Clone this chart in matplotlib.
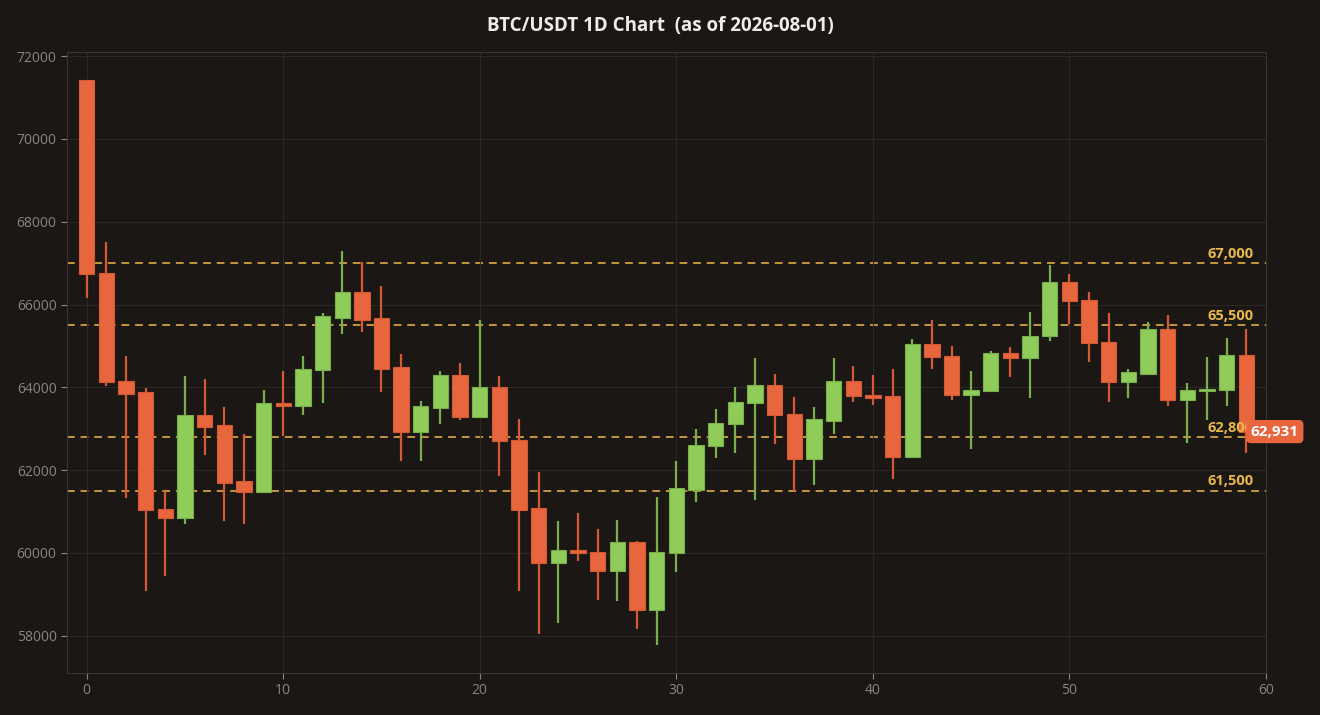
import matplotlib

matplotlib.use("Agg")
import matplotlib.pyplot as plt
from matplotlib.patches import Rectangle

plt.rcParams["font.family"] = ["Open Sans", "Noto Sans", "DejaVu Sans"]

# daily OHLC
opens = [71415, 66750, 64150, 63880, 61060, 60856, 63331, 63092, 61735, 61477,
         63618, 63541, 64411, 65682, 66303, 65672, 64487, 62911, 63512, 64287,
         63274, 64000, 62720, 61076, 59767, 60082, 60015, 59556, 60254, 58611,
         59996, 61525, 62576, 63111, 63618, 64057, 63360, 62261, 63197, 64153,
         63818, 63790, 62309, 65042, 64745, 63809, 63904, 64822, 64707, 65233,
         66542, 66102, 65089, 64124, 64334, 65405, 63704, 63904, 63943, 64774]
highs = [71415, 67517, 64755, 63980, 61506, 64277, 64200, 63522, 62872, 63933,
         64392, 64755, 65797, 67297, 67020, 66446, 64803, 63675, 64392, 64592,
         65625, 64277, 63235, 61955, 60770, 60961, 60579, 60799, 60283, 61353,
         62222, 62997, 63474, 64010, 64707, 64325, 63771, 63522, 64707, 64516,
         64296, 64440, 65156, 65625, 65003, 64392, 64870, 64975, 65825, 66943,
         66743, 66303, 65797, 64440, 65567, 65749, 64096, 64726, 65185, 65405]
lows = [66150, 64040, 61334, 59069, 59451, 60703, 62375, 60760, 60694, 61477,
        62815, 63340, 63627, 65300, 65328, 63876, 62232, 62232, 63120, 63216,
        63274, 61869, 59069, 58037, 58305, 59814, 58868, 58849, 58152, 57770,
        59547, 61219, 62299, 62404, 61286, 62643, 61506, 61649, 62882, 63656,
        63580, 61793, 62309, 64449, 63704, 62500, 63904, 64258, 63732, 65108,
        65519, 64621, 63656, 63752, 64334, 63560, 62653, 63216, 63560, 62404]
closes = [66733, 64124, 63847, 61028, 60856, 63331, 63054, 61697, 61477, 63618,
          63541, 64440, 65730, 66303, 65634, 64449, 62911, 63541, 64287, 63274,
          64000, 62700, 61047, 59767, 60082, 59996, 59556, 60254, 58611, 60015,
          61573, 62605, 63130, 63646, 64057, 63331, 62261, 63226, 64153, 63780,
          63752, 62309, 65042, 64726, 63809, 63924, 64822, 64707, 65252, 66542,
          66083, 65061, 64124, 64363, 65405, 63704, 63924, 63971, 64774, 62931]
levels = [67000, 65500, 62800, 61500]
title = "BTC/USDT 1D Chart  (as of 2026-08-01)"

BG = "#1b1714"
UP, DOWN = "#8fcc5a", "#e8663d"
UP_W, DOWN_W = "#79b04a", "#d45a33"
LEVEL = "#d9a440"

fig = plt.figure(figsize=(13.2, 7.15), dpi=100, facecolor=BG)
ax = fig.add_axes([67 / 1320, 1 - 673 / 715, (1266 - 67) / 1320, (673 - 52) / 715])
ax.set_facecolor(BG)

width = 0.78
for i, (o, h, l, c) in enumerate(zip(opens, highs, lows, closes)):
    up = c >= o
    body_col = UP if up else DOWN
    wick_col = UP_W if up else DOWN_W
    ax.vlines(i, l, h, color=wick_col, linewidth=1.6, zorder=2)
    lo, hi = min(o, c), max(o, c)
    ax.add_patch(Rectangle((i - width / 2, lo), width, max(hi - lo, 40),
                           facecolor=body_col, edgecolor=wick_col, linewidth=0.8, zorder=3))

for lv in levels:
    ax.axhline(lv, color=LEVEL, linestyle=(0, (4, 3)), linewidth=1.4, alpha=0.9, zorder=1)
    ax.text(58.2, lv + 60, f"{lv:,}", color="#e8b84a", fontsize=10.5,
            fontweight="bold", ha="center", va="bottom", zorder=4)

last = closes[-1]
ax.text(60.45, last, f"{last:,}", color="white", fontsize=11, fontweight="bold",
        ha="center", va="center", zorder=6, clip_on=False,
        bbox=dict(boxstyle="round,pad=0.3", facecolor=DOWN, edgecolor="none"))

ax.set_xlim(-1, 60)
ax.set_ylim(57100, 72100)
ax.set_xticks(range(0, 61, 10))
ax.set_yticks(range(58000, 72001, 2000))
ax.grid(True, color="#2c2825", linewidth=0.8, zorder=0)
ax.tick_params(colors="#8a8580", labelsize=10, length=4)
for s in ax.spines.values():
    s.set_color("#3a3532")

fig.text(0.5, 1 - 26 / 715, title, color="#f0ece6", fontsize=13.5,
         fontweight="bold", ha="center", va="center")

fig.savefig("out.png", dpi=100, facecolor=BG)
